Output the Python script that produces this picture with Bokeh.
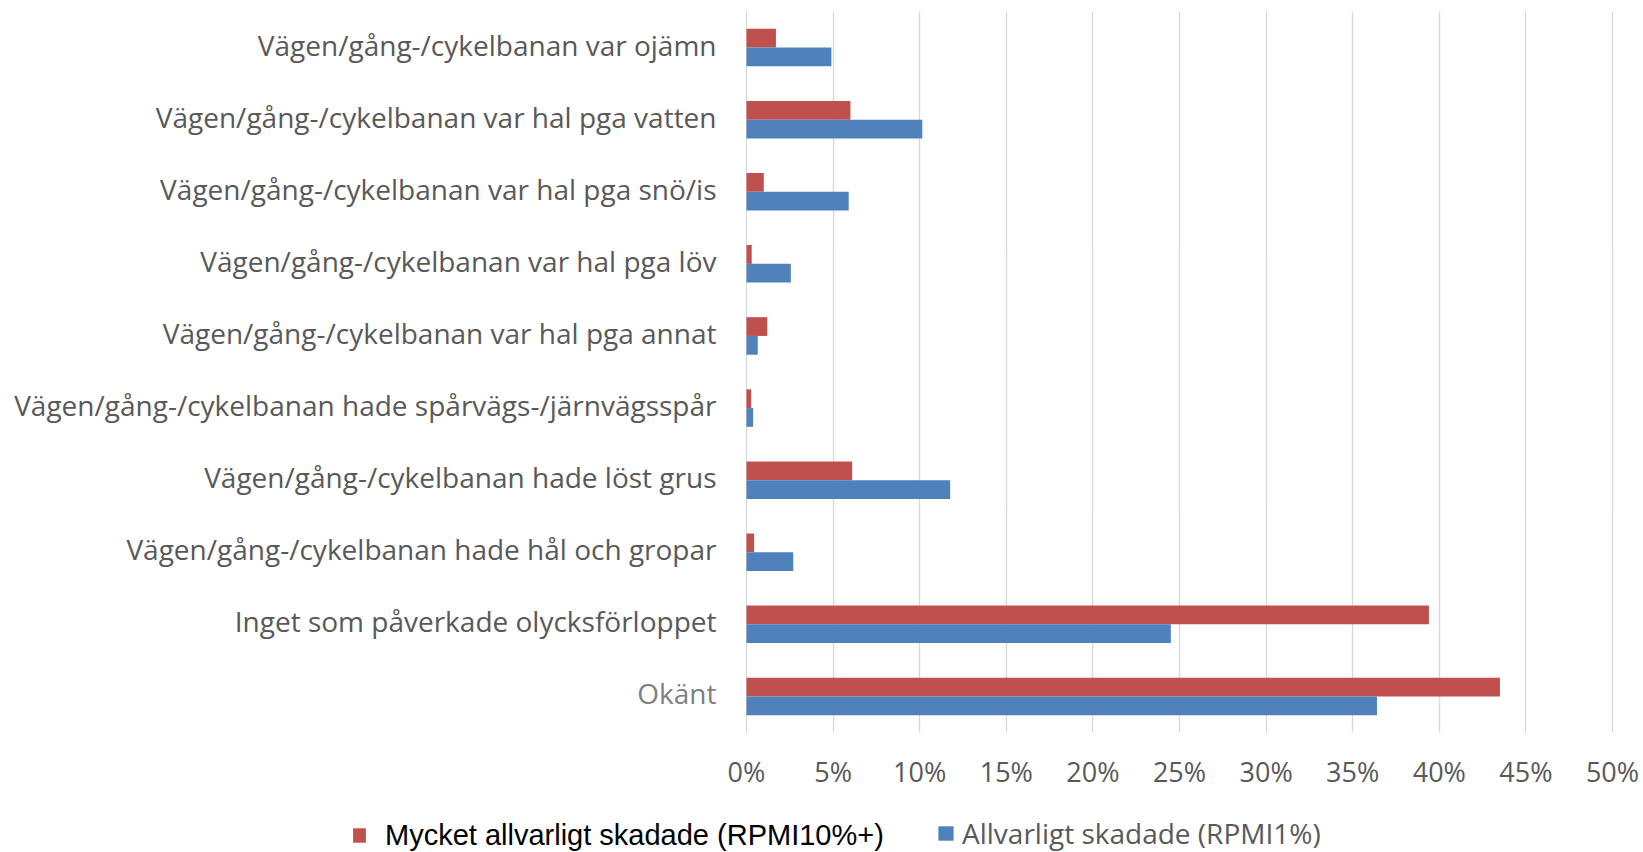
from bokeh.plotting import figure
from bokeh.layouts import column
from bokeh.models import FactorRange, ColumnDataSource, FixedTicker, NumeralTickFormatter, Legend, LegendItem, Range1d
from bokeh.core.properties import value
from bokeh.transform import dodge
from bokeh.embed import file_html
from bokeh.resources import INLINE

categories = [
    "Vägen/gång-/cykelbanan var ojämn",
    "Vägen/gång-/cykelbanan var hal pga vatten",
    "Vägen/gång-/cykelbanan var hal pga snö/is",
    "Vägen/gång-/cykelbanan var hal pga löv",
    "Vägen/gång-/cykelbanan var hal pga annat",
    "Vägen/gång-/cykelbanan hade spårvägs-/järnvägsspår",
    "Vägen/gång-/cykelbanan hade löst grus",
    "Vägen/gång-/cykelbanan hade hål och gropar",
    "Inget som påverkade olycksförloppet",
    "Okänt",
]
mycket_allvarligt = [0.017, 0.060, 0.010, 0.003, 0.012, 0.0027, 0.061, 0.0044, 0.394, 0.435]
allvarligt = [0.049, 0.1015, 0.059, 0.0256, 0.0065, 0.0038, 0.1176, 0.027, 0.245, 0.364]
x_ticks = [0, 0.05, 0.10, 0.15, 0.20, 0.25, 0.30, 0.35, 0.40, 0.45, 0.50]
series_names = ["Mycket allvarligt skadade (RPMI10%+)", "Allvarligt skadade (RPMI1%)"]

RED = "#C0504D"
BLUE = "#4F81BD"
TXT = "#595959"
FONT = "Open Sans"
label_colors = [TXT] * (len(categories) - 1) + ["#7F7F7F"]

# layout: plot area from 746px to 1612px for 0..50 %
W = 1643
AX_LEFT = 746
AX_W = 866
px_per_unit = AX_W / 0.5

src = ColumnDataSource(dict(cat=categories, m=mycket_allvarligt, a=allvarligt, col=label_colors))

p = figure(
    y_range=FactorRange(factors=list(reversed(categories)), range_padding=0),
    x_range=Range1d(-AX_LEFT / px_per_unit, 0.5 + (W - AX_LEFT - AX_W) / px_per_unit),
    frame_width=W, frame_height=721,
    min_border_left=0, min_border_right=0, min_border_top=11, min_border_bottom=68,
    y_axis_location=None,
    output_backend="svg", toolbar_location=None,
)
p.outline_line_color = None
p.background_fill_color = "white"
p.border_fill_color = "white"

r_red = p.hbar(y=dodge("cat", 0.13, range=p.y_range), right="m", left=0, height=0.26,
               source=src, fill_color=RED, line_color=None)
r_blue = p.hbar(y=dodge("cat", -0.13, range=p.y_range), right="a", left=0, height=0.26,
                source=src, fill_color=BLUE, line_color=None)

# category labels, right-aligned against the 0 % line
p.text(x=0, y="cat", text="cat", source=src, x_offset=-30, y_offset=-3,
       text_align="right", text_baseline="middle",
       text_font=value(FONT), text_font_size=value("28px"), text_color="col")

p.xaxis.ticker = FixedTicker(ticks=x_ticks)
p.xaxis.formatter = NumeralTickFormatter(format="0%")
p.xaxis.axis_line_color = None
p.xaxis.major_tick_line_color = None
p.xaxis.minor_tick_line_color = None
p.xaxis.major_label_text_font = FONT
p.xaxis.major_label_text_font_size = "27px"
p.xaxis.major_label_text_color = TXT
p.xaxis.major_label_standoff = 14

p.xgrid.grid_line_color = "#D9D9D9"
p.xgrid.grid_line_width = 1.4
p.ygrid.visible = False

# legend strip below the chart (its glyph renderers have zero height and fall outside its view)
lg = figure(width=W, height=52, x_range=Range1d(2, 3), y_range=Range1d(0, 1),
            x_axis_type=None, y_axis_type=None,
            min_border_left=0, min_border_right=0, min_border_top=0, min_border_bottom=0,
            output_backend="svg", toolbar_location=None)
lg.outline_line_color = None
lg.border_fill_color = "white"
k_red = lg.hbar(y="m", right="m", left=0, height=0, source=src, fill_color=RED, line_color=None)
k_blue = lg.hbar(y="a", right="a", left=0, height=0, source=src, fill_color=BLUE, line_color=None)

leg1 = Legend(items=[LegendItem(label=series_names[0], renderers=[k_red])],
              location=(351, 0), orientation="horizontal",
              padding=0, margin=0, spacing=0,
              glyph_width=16, glyph_height=18, label_standoff=18, label_height=34,
              label_text_font="Liberation Sans", label_text_font_size="29px",
              label_text_color="black",
              background_fill_alpha=0, border_line_alpha=0)
leg2 = Legend(items=[LegendItem(label=series_names[1], renderers=[k_blue])],
              location=(936, 0), orientation="horizontal",
              padding=0, margin=0, spacing=0,
              glyph_width=19, glyph_height=18, label_standoff=7, label_height=34,
              label_text_font=FONT, label_text_font_size="28px",
              label_text_color=TXT,
              background_fill_alpha=0, border_line_alpha=0)
lg.add_layout(leg1, "center")
lg.add_layout(leg2, "center")

layout = column(p, lg, spacing=0)
open("out.html", "w").write(file_html(layout, INLINE))
